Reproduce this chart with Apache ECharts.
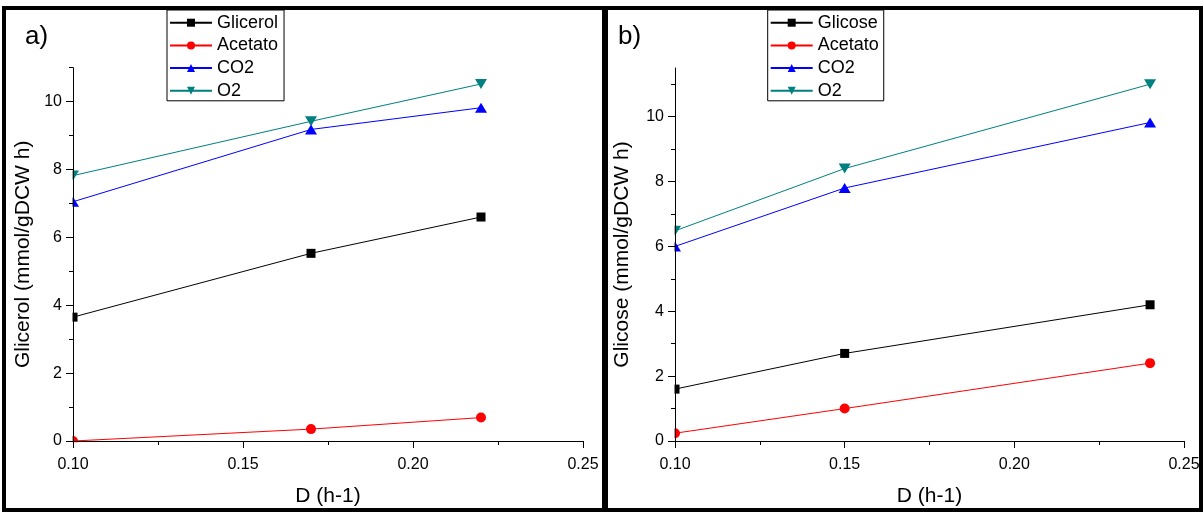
<!DOCTYPE html>
<html>
<head>
<meta charset="utf-8">
<script src="https://cdn.jsdelivr.net/npm/echarts@6/dist/echarts.min.js"></script>
<style>
html,body{margin:0;padding:0;background:#fff;}
#c{width:1203px;height:512px;}
</style>
</head>
<body>
<div id="c"></div>
<script>
// ---- data ----
const xA = [0.10, 0.17, 0.22];
const glicerolA = [3.65, 5.53, 6.60];
const acetatoA = [0.00, 0.35, 0.69];
const co2A = [7.05, 9.18, 9.82];
const o2A = [7.82, 9.42, 10.52];

const xB = [0.10, 0.15, 0.24];
const glicoseB = [1.60, 2.70, 4.20];
const acetatoB = [0.24, 1.00, 2.40];
const co2B = [6.00, 7.80, 9.82];
const o2B = [6.48, 8.40, 11.00];

const legendA = ['Glicerol', 'Acetato', 'CO2', 'O2'];
const legendB = ['Glicose', 'Acetato', 'CO2', 'O2'];
const yTitleA = 'Glicerol (mmol/gDCW h)';
const yTitleB = 'Glicose (mmol/gDCW h)';
const xTitle = 'D (h-1)';
const yMajor = [0, 2, 4, 6, 8, 10];
const yMinor = [1, 3, 5, 7, 9, 11];

// ---- layout / style ----
const FONT = 'Liberation Sans, Arial, sans-serif';
const GA = {left: 73, top: 67.7, width: 510, height: 374};
const GB = {left: 675, top: 68, width: 509, height: 373.7};
const C = {black: '#000000', red: '#ff0000', blue: '#0000ff', teal: '#008080'};

function pairs(xs, ys) { return xs.map((x, i) => [x, ys[i]]); }

function ser(name, xs, ys, color, symbol, size, rot, gi) {
  return {
    name: name, type: 'line', xAxisIndex: gi, yAxisIndex: gi * 2,
    data: pairs(xs, ys), clip: false, z: 2, zlevel: 0,
    symbol: symbol, symbolSize: size, symbolRotate: rot,
    showAllSymbol: true,
    lineStyle: {color: color, width: 1},
    itemStyle: {color: color},
    emphasis: {disabled: true}
  };
}

function xAxis(gi) {
  return {
    type: 'value', gridIndex: gi, min: 0.10, max: 0.25, interval: 0.05, zlevel: 2, z: 10,
    name: xTitle, nameLocation: 'middle', nameGap: 45,
    nameTextStyle: {fontFamily: FONT, fontSize: 21, color: '#000'},
    axisLine: {show: true, onZero: false, lineStyle: {color: '#000', width: 1}},
    axisTick: {show: true, inside: false, length: 7, lineStyle: {color: '#000', width: 1}},
    minorTick: {show: true, splitNumber: 2, length: 4, lineStyle: {color: '#000', width: 1}},
    axisLabel: {fontFamily: FONT, fontSize: 16, color: '#000', margin: 16,
      formatter: v => v.toFixed(2)},
    splitLine: {show: false}, minorSplitLine: {show: false}
  };
}

function yAxes(gi, max, title, gap) {
  return [{
    type: 'value', gridIndex: gi, min: 0, max: max, interval: 2, zlevel: 2, z: 10, position: 'left',
    name: title, nameLocation: 'middle', nameGap: gap,
    nameTextStyle: {fontFamily: FONT, fontSize: 21, color: '#000'},
    axisLine: {show: true, onZero: false, lineStyle: {color: '#000', width: 1}},
    axisTick: {show: true, length: 7, customValues: yMajor, lineStyle: {color: '#000', width: 1}},
    axisLabel: {fontFamily: FONT, fontSize: 16, color: '#000', margin: 11, customValues: yMajor},
    splitLine: {show: false}
  }, {
    type: 'value', gridIndex: gi, min: 0, max: max, interval: 1, zlevel: 2, z: 10, position: 'left', offset: 0,
    axisLine: {show: false},
    axisTick: {show: true, length: 4, customValues: yMinor, lineStyle: {color: '#000', width: 1}},
    axisLabel: {show: false},
    splitLine: {show: false}
  }];
}

function legend(left, names, padRight) {
  return {
    orient: 'vertical', left: left, top: 10, zlevel: 2,
    data: names,
    padding: [3.7, padRight, 1, 2],
    itemWidth: 42, itemHeight: 10, itemGap: 4.7,
    borderColor: '#000', borderWidth: 1, backgroundColor: '#fff',
    selectedMode: false,
    textStyle: {fontFamily: FONT, fontSize: 18, lineHeight: 18, color: '#000'}
  };
}

function bar(x, y, w, h) {
  return {type: 'rect', zlevel: 2, z: 20, silent: true, shape: {x: x, y: y, width: w, height: h}, style: {fill: '#000'}};
}
function mask(g) {
  return [
    {type: 'rect', zlevel: 1, z: 5, silent: true, shape: {x: g.left - 14, y: g.top - 10, width: 13.5, height: g.height + 24}, style: {fill: '#fff'}},
    {type: 'rect', zlevel: 1, z: 5, silent: true, shape: {x: g.left - 14, y: g.top + g.height + 0.5, width: g.width + 24, height: 12}, style: {fill: '#fff'}}
  ];
}

const option = {
  animation: false,
  backgroundColor: '#fff',
  grid: [
    {left: GA.left, top: GA.top, width: GA.width, height: GA.height, containLabel: false},
    {left: GB.left, top: GB.top, width: GB.width, height: GB.height, containLabel: false}
  ],
  xAxis: [xAxis(0), xAxis(1)],
  yAxis: [].concat(yAxes(0, 11, yTitleA, 39), yAxes(1, 11.5, yTitleB, 42)),
  legend: [legend(167, legendA, 6), legend(767.7, legendB, 5)],
  series: [
    ser(legendA[0], xA, glicerolA, C.black, 'rect', 9, 0, 0),
    ser(legendA[1], xA, acetatoA, C.red, 'circle', 10, 0, 0),
    ser(legendA[3], xA, o2A, C.teal, 'triangle', [12, 10], 180, 0),
    ser(legendA[2], xA, co2A, C.blue, 'triangle', [12, 10], 0, 0),
    ser(legendB[0], xB, glicoseB, C.black, 'rect', 9, 0, 1),
    ser(legendB[1], xB, acetatoB, C.red, 'circle', 10, 0, 1),
    ser(legendB[3], xB, o2B, C.teal, 'triangle', [12, 10], 180, 1),
    ser(legendB[2], xB, co2B, C.blue, 'triangle', [12, 10], 0, 1)
  ],
  graphic: {
    elements: [].concat(
      mask(GA), mask(GB),
      [
        bar(2, 6, 1201, 4),
        bar(2, 508, 1201, 4),
        bar(2, 6, 4, 506),
        bar(602, 6, 6, 506),
        bar(1199, 6, 4, 506),
        {type: 'text', zlevel: 2, z: 20, silent: true, x: 25, y: 24, style: {text: 'a)', font: '26px ' + FONT, fill: '#000', verticalAlign: 'top'}},
        {type: 'text', zlevel: 2, z: 20, silent: true, x: 618, y: 24, style: {text: 'b)', font: '26px ' + FONT, fill: '#000', verticalAlign: 'top'}}
      ]
    )
  }
};

const chart = echarts.init(document.getElementById('c'), null, {renderer: 'canvas'});
chart.setOption(option);
</script>
</body>
</html>
